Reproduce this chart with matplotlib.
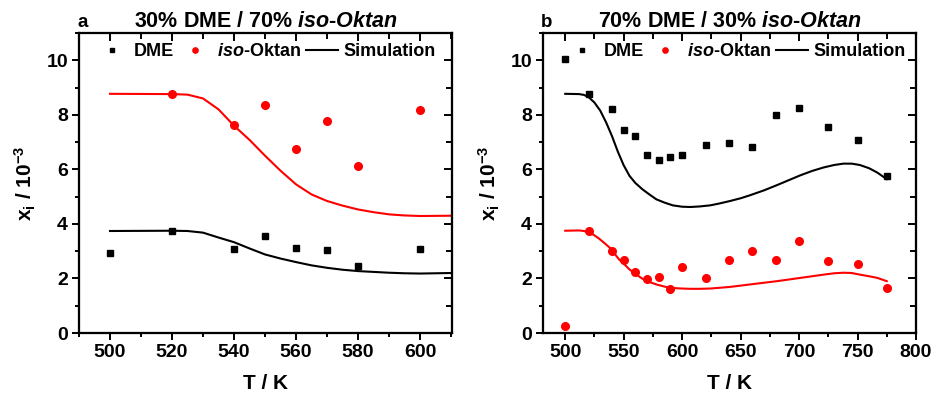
import numpy as np
import matplotlib
matplotlib.use('Agg')
import matplotlib.pyplot as plt
from matplotlib.lines import Line2D
from matplotlib.ticker import MultipleLocator, NullFormatter

plt.rcParams['font.family'] = ['Liberation Sans', 'DejaVu Sans']
plt.rcParams['font.weight'] = 'bold'
plt.rcParams['mathtext.fontset'] = 'custom'
plt.rcParams['mathtext.rm'] = 'Liberation Sans:bold'
plt.rcParams['mathtext.it'] = 'Liberation Sans:bold:italic'
plt.rcParams['mathtext.bf'] = 'Liberation Sans:bold'

# panel a: 30% DME / 70% iso-Oktan
T_a = [500, 520, 540, 550, 560, 570, 580, 600]
dme_a = [2.95, 3.74, 3.09, 3.54, 3.11, 3.05, 2.45, 3.08]
T_a_iso = [520, 540, 550, 560, 570, 580, 600]
iso_a = [8.75, 7.61, 8.35, 6.75, 7.76, 6.14, 8.16]

sim_T_a = [500, 520, 525, 530, 535, 540, 545, 550, 555, 560, 565, 570, 575, 580, 585, 590, 595, 600, 610]
sim_iso_a = [8.77, 8.76, 8.74, 8.6, 8.2, 7.6, 7.08, 6.5, 5.95, 5.45, 5.08, 4.84, 4.67, 4.53, 4.43, 4.35, 4.31, 4.29, 4.3]
sim_dme_a = [3.74, 3.75, 3.74, 3.68, 3.5, 3.33, 3.1, 2.88, 2.73, 2.6, 2.48, 2.39, 2.32, 2.27, 2.24, 2.21, 2.19, 2.18, 2.2]

# panel b: 70% DME / 30% iso-Oktan
T_b = [500, 520, 540, 550, 560, 570, 580, 590, 600, 620, 640, 660, 680, 700, 725, 750, 775]
dme_b = [10.04, 8.75, 8.2, 7.45, 7.22, 6.53, 6.35, 6.46, 6.52, 6.88, 6.96, 6.83, 8.0, 8.24, 7.54, 7.06, 5.76]
iso_b = [0.27, 3.74, 2.99, 2.66, 2.24, 1.97, 2.06, 1.62, 2.43, 2.01, 2.67, 3.0, 2.67, 3.39, 2.65, 2.53, 1.64]

sim_T_b_dme = [500, 512, 516, 520, 525, 530, 535, 540, 545, 550, 555, 560, 566, 572, 578, 585, 592, 600,
               607, 615, 624, 632, 641, 650, 658, 670, 681, 691, 701, 711, 721, 730, 738, 745, 752, 760, 767, 775]
sim_dme_b = [8.77, 8.76, 8.73, 8.65, 8.45, 8.15, 7.72, 7.22, 6.65, 6.15, 5.76, 5.5, 5.27, 5.08, 4.9, 4.78, 4.68, 4.63,
             4.62, 4.64, 4.68, 4.75, 4.84, 4.94, 5.05, 5.23, 5.42, 5.6, 5.78, 5.94, 6.07, 6.16, 6.21, 6.21, 6.16, 6.04, 5.88, 5.64]
sim_T_b_iso = [500, 512, 516, 521, 525, 529, 534, 538, 542, 546, 551, 555, 561, 566, 572, 578, 585, 592, 600,
               607, 615, 624, 641, 658, 681, 701, 721, 730, 738, 745, 752, 760, 767, 775]
sim_iso_b = [3.75, 3.76, 3.74, 3.68, 3.58, 3.46, 3.28, 3.13, 2.92, 2.7, 2.5, 2.33, 2.14, 1.99, 1.87, 1.78, 1.7, 1.65, 1.63,
             1.62, 1.62, 1.63, 1.69, 1.78, 1.9, 2.02, 2.14, 2.19, 2.21, 2.2, 2.14, 2.08, 2.02, 1.9]

RED = '#ff0000'

fig = plt.figure(figsize=(9.33, 3.96), dpi=100)
ax1 = fig.add_axes([79 / 933, 63 / 396, 373 / 933, 300 / 396])
ax2 = fig.add_axes([543 / 933, 63 / 396, 373 / 933, 300 / 396])


def style(ax, xlim, xmaj, xmin, letter, title, legx):
    ax.set_xlim(*xlim)
    ax.set_ylim(0, 11)
    ax.xaxis.set_major_locator(MultipleLocator(xmaj))
    ax.xaxis.set_minor_locator(MultipleLocator(xmin))
    ax.yaxis.set_major_locator(MultipleLocator(2))
    ax.yaxis.set_minor_locator(MultipleLocator(1))
    ax.tick_params(which='both', direction='out', width=1.4, labelsize=14, pad=3)
    ax.tick_params(which='major', length=5)
    ax.tick_params(which='minor', length=3)
    for s in ax.spines.values():
        s.set_linewidth(1.5)
    # mirrored ticks pointing inward on top and right
    top = ax.twiny()
    top.set_xlim(*xlim)
    top.xaxis.set_major_locator(MultipleLocator(xmaj))
    top.xaxis.set_minor_locator(MultipleLocator(xmin))
    top.xaxis.set_major_formatter(NullFormatter())
    top.tick_params(which='major', direction='in', width=1.4, length=6, top=True, bottom=False)
    top.tick_params(which='minor', direction='in', width=1.4, length=4.5, top=True, bottom=False)
    right = ax.twinx()
    right.set_ylim(0, 11)
    right.yaxis.set_major_locator(MultipleLocator(2))
    right.yaxis.set_minor_locator(MultipleLocator(1))
    right.yaxis.set_major_formatter(NullFormatter())
    right.tick_params(which='major', direction='in', width=1.4, length=6, right=True, left=False)
    right.tick_params(which='minor', direction='in', width=1.4, length=4.5, right=True, left=False)
    for t in [top, right]:
        for s in t.spines.values():
            s.set_linewidth(1.5)
    for t in ax.get_xticklabels() + ax.get_yticklabels():
        t.set_fontweight('bold')
    ax.set_xlabel('T / K', fontsize=15, fontweight='bold', labelpad=9)
    ax.set_ylabel(r'x$_\mathrm{i}$ / 10$^\mathrm{-3}$', fontsize=15, fontweight='bold', labelpad=6)
    ax.text(0.5, 1.02, title, transform=ax.transAxes, fontsize=15.5, fontweight='bold',
            ha='center', va='baseline')
    ax.text(-0.005, 1.02, letter, transform=ax.transAxes, fontsize=13.5, fontweight='bold',
            ha='left', va='baseline')
    handles = [Line2D([], [], ls='none', marker='s', color='black', ms=3.4),
               Line2D([], [], ls='none', marker='o', color=RED, ms=3.8),
               Line2D([], [], color='black', lw=1.5)]
    labels = ['DME', r'$\mathit{iso}$-Oktan', 'Simulation']
    ax.legend(handles, labels, loc='upper left', bbox_to_anchor=(legx, 0.965), ncol=3, frameon=False,
              fontsize=13, handlelength=1.78, handletextpad=0.3, columnspacing=0.3,
              borderaxespad=0, borderpad=0)


ax1.plot(sim_T_a, sim_iso_a, color=RED, lw=1.5)
ax1.plot(sim_T_a, sim_dme_a, color='black', lw=1.5)
ax1.plot(T_a, dme_a, 's', color='black', ms=5, ls='none')
ax1.plot(T_a_iso, iso_a, 'o', color=RED, ms=5.5, ls='none')
style(ax1, (490, 610.3), 20, 10, 'a', r'30% DME / 70% $\mathit{iso}$-$\mathit{Oktan}$', 0.046)

ax2.plot(sim_T_b_iso, sim_iso_b, color=RED, lw=1.5)
ax2.plot(sim_T_b_dme, sim_dme_b, color='black', lw=1.5)
ax2.plot(T_b, dme_b, 's', color='black', ms=5, ls='none')
ax2.plot(T_b, iso_b, 'o', color=RED, ms=5.5, ls='none')
style(ax2, (481, 800), 50, 25, 'b', r'70% DME / 30% $\mathit{iso}$-$\mathit{Oktan}$', 0.062)

plt.savefig('out.png', dpi=100)
